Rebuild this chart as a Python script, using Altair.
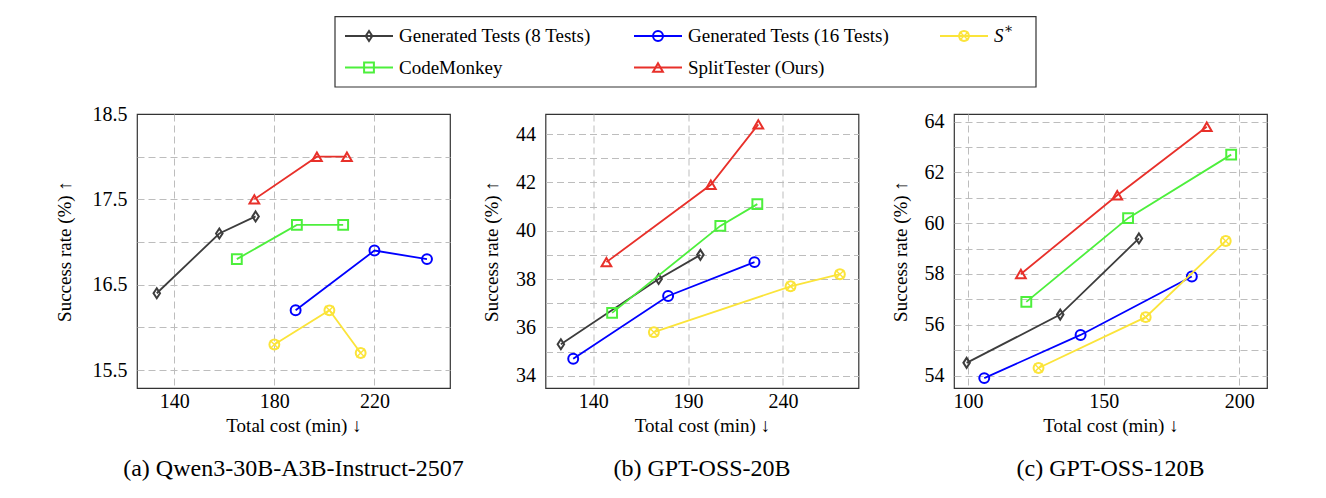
import altair as alt
import pandas as pd

FONT = "Liberation Serif, DejaVu Serif, serif"

SERIES = ["Generated Tests (8 Tests)", "Generated Tests (16 Tests)", "S*", "CodeMonkey", "SplitTester (Ours)"]
COLORS = ["#3d3d3d", "#0000ff", "#fbe43a", "#4def3c", "#e8302a"]
SHAPES = ["M0,-1L0.65,0L0,1L-0.65,0Z", "circle", "circle", "square", "triangle-up"]
SIZES = [100, 95, 150, 165, 150]
CROSS = "M-0.7,-0.7L0.7,0.7M-0.7,0.7L0.7,-0.7"

# ---- (a) Qwen3-30B-A3B-Instruct-2507 ----
qwen_gen8_cost = [133, 158, 172.5]
qwen_gen8_rate = [16.4, 17.1, 17.3]
qwen_gen16_cost = [188.5, 220, 241]
qwen_gen16_rate = [16.2, 16.9, 16.8]
qwen_sstar_cost = [180, 202, 214.5]
qwen_sstar_rate = [15.8, 16.2, 15.7]
qwen_cm_cost = [165, 189, 207.5]
qwen_cm_rate = [16.8, 17.2, 17.2]
qwen_split_cost = [172, 197, 209]
qwen_split_rate = [17.5, 18.0, 18.0]

# ---- (b) GPT-OSS-20B ----
oss20_gen8_cost = [123, 174.5, 196.5]
oss20_gen8_rate = [35.3, 38.0, 39.0]
oss20_gen16_cost = [129.5, 179.5, 225]
oss20_gen16_rate = [34.7, 37.3, 38.7]
oss20_sstar_cost = [172, 244, 270]
oss20_sstar_rate = [35.8, 37.7, 38.2]
oss20_cm_cost = [150, 207, 226.5]
oss20_cm_rate = [36.6, 40.2, 41.1]
oss20_split_cost = [147, 202, 227]
oss20_split_rate = [38.7, 41.9, 44.4]

# ---- (c) GPT-OSS-120B ----
oss120_gen8_cost = [99.5, 134, 163]
oss120_gen8_rate = [54.5, 56.4, 59.4]
oss120_gen16_cost = [106, 141.5, 182.5]
oss120_gen16_rate = [53.9, 55.6, 57.9]
oss120_sstar_cost = [126, 165.5, 195]
oss120_sstar_rate = [54.3, 56.3, 59.3]
oss120_cm_cost = [121.5, 159, 197]
oss120_cm_rate = [56.9, 60.2, 62.7]
oss120_split_cost = [119.5, 155, 188]
oss120_split_rate = [58.0, 61.1, 63.8]

PANEL_TITLES = ["(a) Qwen3-30B-A3B-Instruct-2507", "(b) GPT-OSS-20B", "(c) GPT-OSS-120B"]
X_DOMAINS = [[125.1, 250.2], [114.9, 279.8], [94.85, 210.2]]
X_TICKS = [[140, 180, 220], [140, 190, 240], [100, 150, 200]]
Y_DOMAINS = [[15.29, 18.5], [33.49, 44.83], [53.51, 64.3]]
Y_GRID = [[15.5, 16.0, 16.5, 17.0, 17.5, 18.0, 18.5],
          [34, 35, 36, 37, 38, 39, 40, 41, 42, 43, 44],
          [54, 55, 56, 57, 58, 59, 60, 61, 62, 63, 64]]
Y_LABEL_BASE = [15.5, 34, 54]
Y_LABEL_STEP = [1, 2, 2]
Y_FMT = [".1f", "d", "d"]
Y_TITLE_PAD = [18, 14, 14]

PANEL_DATA = [
    [(qwen_gen8_cost, qwen_gen8_rate), (qwen_gen16_cost, qwen_gen16_rate),
     (qwen_sstar_cost, qwen_sstar_rate), (qwen_cm_cost, qwen_cm_rate),
     (qwen_split_cost, qwen_split_rate)],
    [(oss20_gen8_cost, oss20_gen8_rate), (oss20_gen16_cost, oss20_gen16_rate),
     (oss20_sstar_cost, oss20_sstar_rate), (oss20_cm_cost, oss20_cm_rate),
     (oss20_split_cost, oss20_split_rate)],
    [(oss120_gen8_cost, oss120_gen8_rate), (oss120_gen16_cost, oss120_gen16_rate),
     (oss120_sstar_cost, oss120_sstar_rate), (oss120_cm_cost, oss120_cm_rate),
     (oss120_split_cost, oss120_split_rate)],
]

# layout constants
PAD_L = 54
PLOT_W = 313
PLOT_H = 274
LEG_H = 95
LEG_ORIGIN = 136          # legend view is aligned with the first plot's left edge
LEG_W = 910

color_scale = alt.Scale(domain=SERIES, range=COLORS)
shape_scale = alt.Scale(domain=SERIES, range=SHAPES)
size_scale = alt.Scale(domain=SERIES, range=SIZES)


def panel(i):
    rows = []
    for s, (xs, ys) in enumerate(PANEL_DATA[i]):
        for k, (xv, yv) in enumerate(zip(xs, ys)):
            rows.append({"series": SERIES[s], "order": s, "idx": k, "cost": xv, "rate": yv})
    df = pd.DataFrame(rows)
    base_ = Y_LABEL_BASE[i]
    step = Y_LABEL_STEP[i]
    label_expr = (f"abs((datum.value - {base_}) / {step} - round((datum.value - {base_}) / {step})) < 0.001"
                  f" ? format(datum.value, '{Y_FMT[i]}') : ''")
    top = Y_DOMAINS[i][1]
    x_enc = alt.X("cost:Q", scale=alt.Scale(domain=X_DOMAINS[i], nice=False, zero=False),
                  axis=alt.Axis(values=X_TICKS[i], title="Total cost (min) ↓", labelFlush=False,
                                labelPadding=3, titlePadding=5))
    y_enc = alt.Y("rate:Q", scale=alt.Scale(domain=Y_DOMAINS[i], nice=False, zero=False),
                  axis=alt.Axis(values=Y_GRID[i], labelExpr=label_expr, title="Success rate (%) ↑",
                                labelPadding=10, titlePadding=Y_TITLE_PAD[i], labelOverlap=False,
                                gridOpacity={"condition": {"test": f"datum.value >= {top} - 0.001",
                                                           "value": 0}, "value": 1}))
    base = alt.Chart(df).encode(x=x_enc, y=y_enc)
    layers = []
    for s in range(len(SERIES)):
        sub = base.transform_filter(alt.datum.order == s)
        layers.append(sub.mark_line(strokeWidth=1.8, color=COLORS[s]).encode(order="idx:Q"))
        layers.append(sub.mark_point(filled=False, strokeWidth=2, opacity=1).encode(
            shape=alt.Shape("series:N", scale=shape_scale, legend=None),
            color=alt.Color("series:N", scale=color_scale, legend=None),
            size=alt.Size("series:N", scale=size_scale, legend=None),
        ))
        if SERIES[s] == "S*":
            layers.append(sub.mark_point(filled=False, strokeWidth=1.4, opacity=1, shape=CROSS,
                                         size=SIZES[s], color=COLORS[s]))
    return alt.layer(*layers).properties(
        width=PLOT_W, height=PLOT_H,
        title=alt.TitleParams(PANEL_TITLES[i], orient="bottom", anchor="middle", frame="group",
                              fontSize=24, font=FONT, fontWeight="normal", offset=22, color="black"),
    )


# ---- legend (drawn as its own small chart, coordinates in page pixels) ----
LEG_BOX = [334, 1035, 15.7, 86]
LEG_COL_X = [344, 633, 939]
LEG_ROW_Y = [35, 66.5]
LEG_ORDER = [0, 1, 2, 3, 4]
LINE_LEN = 48

leg_rows = []
for pos, s in enumerate(LEG_ORDER):
    col, row = pos % 3, pos // 3
    x0 = LEG_COL_X[col]
    leg_rows.append({"series": SERIES[s], "x0": x0, "x1": x0 + LINE_LEN, "xm": x0 + LINE_LEN / 2,
                     "xt": x0 + LINE_LEN + 6, "y": LEG_ROW_Y[row],
                     "label": SERIES[s], "italic": SERIES[s] == "S*"})
leg_df = pd.DataFrame(leg_rows)
box_df = pd.DataFrame([{"x0": LEG_BOX[0], "x1": LEG_BOX[1], "y0": LEG_BOX[2], "y1": LEG_BOX[3]}])

lx = alt.Scale(domain=[LEG_ORIGIN, LEG_ORIGIN + LEG_W], nice=False, zero=False)
ly = alt.Scale(domain=[0, LEG_H], nice=False, zero=False, reverse=True)

box = alt.Chart(box_df).mark_rect(fill="white", stroke="#333333", strokeWidth=1.2).encode(
    x=alt.X("x0:Q", scale=lx, axis=None), x2="x1:Q",
    y=alt.Y("y0:Q", scale=ly, axis=None), y2="y1:Q")
leg_base = alt.Chart(leg_df)
leg_lines = leg_base.mark_rule(strokeWidth=1.8).encode(
    x=alt.X("x0:Q", scale=lx, axis=None), x2="x1:Q",
    y=alt.Y("y:Q", scale=ly, axis=None),
    color=alt.Color("series:N", scale=color_scale, legend=None))
leg_pts = leg_base.mark_point(filled=False, strokeWidth=2, opacity=1).encode(
    x=alt.X("xm:Q", scale=lx, axis=None), y=alt.Y("y:Q", scale=ly, axis=None),
    color=alt.Color("series:N", scale=color_scale, legend=None),
    shape=alt.Shape("series:N", scale=shape_scale, legend=None),
    size=alt.Size("series:N", scale=size_scale, legend=None))
leg_cross = leg_base.transform_filter(alt.datum.italic).mark_point(
    filled=False, strokeWidth=1.4, opacity=1, shape=CROSS, size=SIZES[2], color=COLORS[2]).encode(
    x=alt.X("xm:Q", scale=lx, axis=None), y=alt.Y("y:Q", scale=ly, axis=None))
leg_text = leg_base.transform_filter(~alt.datum.italic).mark_text(
    align="left", baseline="middle", font=FONT, fontSize=19, color="black").encode(
    x=alt.X("xt:Q", scale=lx, axis=None), y=alt.Y("y:Q", scale=ly, axis=None), text="label:N")
leg_s = leg_base.transform_filter(alt.datum.italic).mark_text(
    align="left", baseline="middle", font=FONT, fontSize=19, fontStyle="italic", color="black").encode(
    x=alt.X("xt:Q", scale=lx, axis=None), y=alt.Y("y:Q", scale=ly, axis=None), text=alt.value("S"))
leg_star = leg_base.transform_filter(alt.datum.italic).mark_text(
    align="left", baseline="middle", font=FONT, fontSize=14, color="black", dx=10, dy=-7).encode(
    x=alt.X("xt:Q", scale=lx, axis=None), y=alt.Y("y:Q", scale=ly, axis=None), text=alt.value("∗"))

legend = alt.layer(box, leg_lines, leg_pts, leg_cross, leg_text, leg_s, leg_star).properties(
    width=LEG_W, height=LEG_H, view=alt.ViewBackground(stroke="transparent"))

panels = alt.hconcat(panel(0), panel(1), panel(2), spacing=95.5, bounds="flush")

chart = alt.vconcat(legend, panels, spacing=18, bounds="flush").properties(
    padding={"left": PAD_L, "top": 0, "right": 0, "bottom": 0}
).configure_view(stroke="#333333", strokeWidth=1.2).configure_axis(
    labelFont=FONT, labelFontSize=20, labelColor="black",
    titleFont=FONT, titleFontSize=19, titleFontWeight="normal", titleColor="black",
    grid=True, gridColor="#bdbdbd", gridDash=[7, 4], gridWidth=1,
    ticks=False, domain=False,
)

chart.save("out.html", embed_options={"renderer": "svg", "actions": False})
